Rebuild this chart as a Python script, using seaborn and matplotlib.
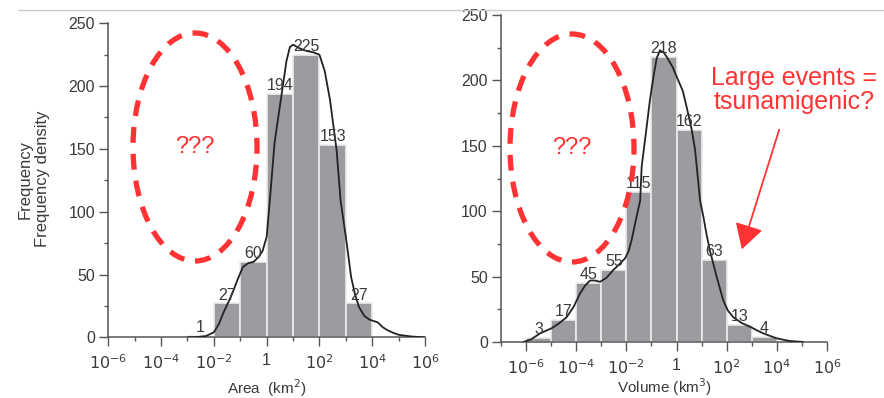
import numpy as np
import pandas as pd
import matplotlib
matplotlib.use("Agg")
import matplotlib.pyplot as plt
from matplotlib.patches import Ellipse, FancyArrowPatch
from matplotlib.lines import Line2D
import seaborn as sns

sns.set_style("white")
plt.rcParams['font.family'] = ['Liberation Sans', 'DejaVu Sans']

# bin edges are decades: each bin goes from 10**lo to 10**(lo+1)
area_bin_lo = [-3, -2, -1, 0, 1, 2, 3]
area_counts = [1, 27, 60, 194, 225, 153, 27]
area_labels = ["1", "27", "60", "194", "225", "153", "27"]

vol_bin_lo = [-6, -5, -4, -3, -2, -1, 0, 1, 2, 3]
vol_counts = [3, 17, 45, 55, 115, 218, 162, 63, 13, 4]
vol_labels = ["3", "17", "45", "55", "115", "218", "162", "63", "13", "4"]

# density curves (x in log10 units)
area_curve_x = [-3.0, -2.6, -2.3, -2.0, -1.8, -1.65, -1.45, -1.3, -1.1, -0.9, -0.7, -0.5, -0.3,
                -0.15, 0.0, 0.12, 0.3, 0.57, 0.75, 0.88, 1.0, 1.25, 1.5, 1.75, 2.0, 2.2,
                2.4, 2.55, 2.65, 2.8, 3.0, 3.2, 3.35, 3.5, 3.7, 3.9, 4.05, 4.2, 4.4, 4.55,
                4.8, 5.0, 5.5, 6.0]
area_curve_y = [0, 0.3, 1, 4, 11, 19, 28, 35, 46, 56, 59, 60, 64,
                69, 80, 109, 155, 194, 220, 231, 233, 230, 228, 227, 225, 212,
                189, 165, 149, 109, 80, 48, 34, 24, 17, 14, 13, 12, 8, 6,
                3.5, 2, 0.6, 0]

vol_curve_x = [-6.1, -5.8, -5.44, -4.98, -4.7, -4.38, -4.1, -3.85, -3.65, -3.45, -3.25, -3.05,
               -2.8, -2.52, -2.25, -2.05, -1.9, -1.79, -1.59, -1.45, -1.39, -1.2, -1.06, -0.9,
               -0.79, -0.66, -0.5, -0.39, -0.15, 0.07, 0.25, 0.40, 0.6, 0.74, 0.94, 1.07, 1.2,
               1.33, 1.6, 1.86, 2.05, 2.26, 2.6, 2.93, 3.2, 3.46, 3.99, 4.5, 5.06]
vol_curve_y = [0, 2, 6.6, 10.5, 14, 19, 27, 37, 43, 47, 47, 46,
               49, 55, 60, 64, 70, 78, 96, 108, 134, 163, 185, 205,
               217, 223, 221, 218, 210, 200, 192, 180, 163, 147, 108, 96, 82,
               70, 50, 32, 24, 19, 14.5, 11.7, 9, 6.6, 2.8, 0.8, 0]

bar_color = "#9c9ca0"
axis_color = "#555555"
text_color = "#3a3a3a"
red = "#ff3333"


def decade_label(v, pos):
    e = int(round(np.log10(v)))
    if e == 0:
        return "1"
    return r"$10^{%d}$" % e


def draw_panel(ax, bin_lo, counts, labels, cx, cy, xmin, xlabel, lpad):
    centers = [10.0 ** (b + 0.5) for b in bin_lo]
    df = pd.DataFrame({"x": centers, "n": counts})
    sns.histplot(data=df, x="x", weights="n", log_scale=(10, False),
                 binwidth=1, binrange=(bin_lo[0], bin_lo[-1] + 1),
                 color=bar_color, alpha=1, edgecolor="#ececec", linewidth=1.2, ax=ax)
    cdf = pd.DataFrame({"x": [10.0 ** v for v in cx], "y": cy})
    sns.lineplot(data=cdf, x="x", y="y", color="#222222", lw=1.3, ax=ax, zorder=3)
    for c, n, lab in zip(centers, counts, labels):
        ax.text(c, n + 0.5, lab, ha="center", va="bottom", fontsize=11.5, color=text_color,
                zorder=4)
    ax.set_xscale("log")
    ax.set_xlim(10.0 ** xmin, 1e6)
    ax.set_ylim(0, 250)
    ax.set_xticks([10.0 ** e for e in range(-6, 7, 2)])
    ax.set_xticks([10.0 ** e for e in range(xmin, 7) if e % 2 != 0 or e < -6], minor=True)
    ax.xaxis.set_major_formatter(plt.FuncFormatter(decade_label))
    ax.xaxis.set_minor_formatter(plt.NullFormatter())
    ax.set_yticks(range(0, 251, 50))
    ax.set_yticks(range(25, 250, 50), minor=True)
    ax.tick_params(axis="both", which="major", direction="out", length=6.5, width=1,
                   color=axis_color, labelcolor=text_color, labelsize=11.5, pad=3)
    ax.tick_params(axis="both", which="minor", direction="out", length=3, width=1,
                   color=axis_color)
    ax.tick_params(axis="x", which="major", pad=5)
    ax.tick_params(left=True, bottom=True, which="both")
    for s in ["top", "right"]:
        ax.spines[s].set_visible(False)
    for s in ["left", "bottom"]:
        ax.spines[s].set_color(axis_color)
        ax.spines[s].set_linewidth(1.1)
    ax.set_xlabel(xlabel, fontsize=11, color=text_color, labelpad=lpad)
    ax.set_ylabel("")


fig = plt.figure(figsize=(8.84, 3.98), dpi=100)
ax1 = fig.add_axes([0.1225, 0.1525, 0.3583, 0.789])
ax2 = fig.add_axes([0.5667, 0.1407, 0.3688, 0.8216])

draw_panel(ax1, area_bin_lo, area_counts, area_labels, area_curve_x, area_curve_y, -6,
           r"Area  (km$^2$)", 4)
draw_panel(ax2, vol_bin_lo, vol_counts, vol_labels, vol_curve_x, vol_curve_y, -7,
           r"Volume (km$^3$)", 0)

# y labels (two overlapping labels as in the source)
fig.text(25 / 884, 1 - 180 / 398, "Frequency", rotation=90, ha="center", va="center",
         fontsize=12, color=text_color)
fig.text(43 / 884, 1 - 179 / 398, "Frequency density", rotation=90, ha="center", va="center",
         fontsize=12, color=text_color)

# red dashed ellipses with ???
for cx_px, cy_px in [(195, 147), (572, 148)]:
    e = Ellipse((cx_px / 884, 1 - cy_px / 398), 124 / 884, 228 / 398, transform=fig.transFigure,
                fill=False, ec=red, lw=3.8, ls=(0, (3, 2.1)), zorder=5)
    fig.patches.append(e)
    fig.text(cx_px / 884, 1 - cy_px / 398, "???", ha="center", va="center", fontsize=17,
             color=red)

fig.text(794 / 884, 1 - 90 / 398, "Large events =\ntsunamigenic?", ha="center", va="center",
         fontsize=18, color=red, linespacing=1.0)
fig.patches.append(FancyArrowPatch(
    (780 / 884, 1 - 127 / 398), (741 / 884, 1 - 252 / 398), transform=fig.transFigure,
    arrowstyle="-|>,head_length=7,head_width=4", color=red, lw=1.3, mutation_scale=2.2))

# thin gray rule at the top
fig.lines.append(Line2D([18 / 884, 1], [1 - 10 / 398, 1 - 10 / 398], transform=fig.transFigure,
                        color="#cccccc", lw=1))

fig.savefig("out.png", dpi=100)
